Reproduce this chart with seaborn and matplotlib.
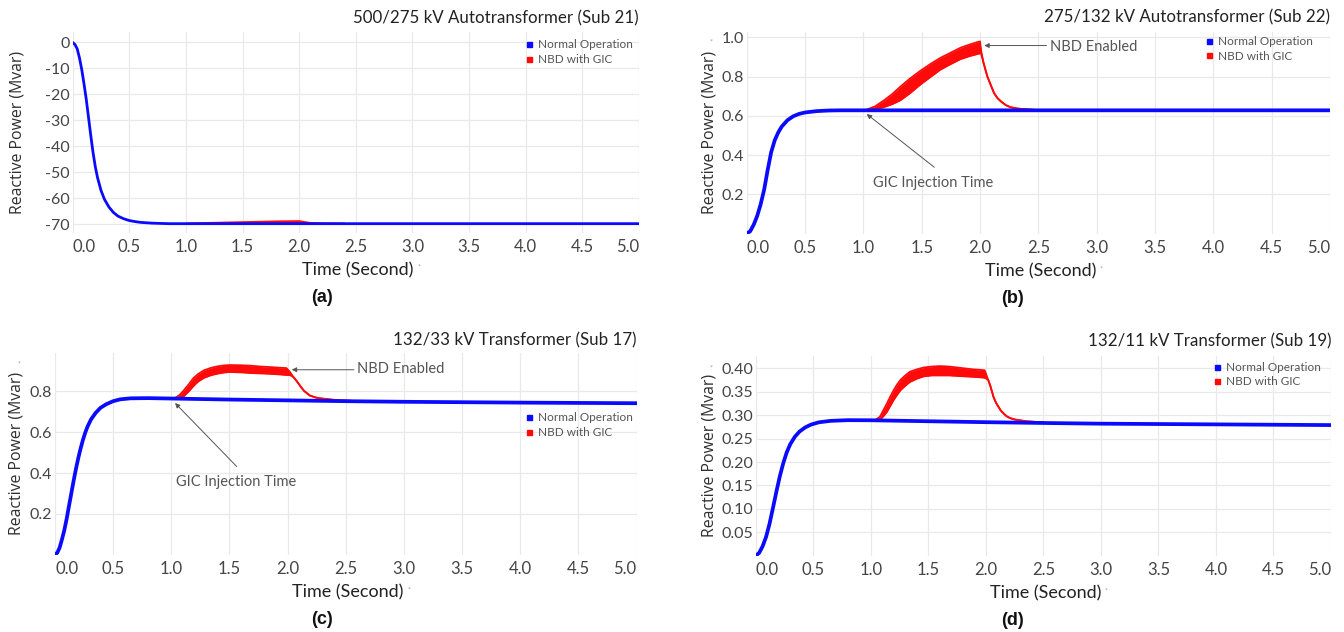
import matplotlib
matplotlib.use("Agg")
import matplotlib.pyplot as plt
from matplotlib.lines import Line2D
import seaborn as sns

# ---------------------------------------------------------------- data
# Time axis shared by all panels
time_ticks = [0.0, 0.5, 1.0, 1.5, 2.0, 2.5, 3.0, 3.5, 4.0, 4.5, 5.0]
time_tick_labels = ["0.0", "0.5", "1.0", "1.5", "2.0", "2.5", "3.0", "3.5", "4.0", "4.5", "5.0"]

series_labels = ["Normal Operation", "NBD with GIC"]

# (a) 500/275 kV Autotransformer (Sub 21)
a_title = "500/275 kV Autotransformer (Sub 21)"
a_normal_t = [0.00, 0.02, 0.04, 0.06, 0.08, 0.10, 0.12, 0.14, 0.16, 0.18, 0.20, 0.22,
              0.25, 0.28, 0.32, 0.36, 0.40, 0.45, 0.50, 0.55, 0.60, 0.70, 0.85, 1.00, 5.00]
a_normal_q = [0.0, -0.8, -2.5, -6.0, -10.5, -16.0, -22.0, -29.0, -36.0, -42.5, -48.0, -52.2,
              -57.0, -60.4, -63.4, -65.5, -66.9, -67.9, -68.6, -69.0, -69.3, -69.6, -69.8, -69.8, -69.8]
a_nbd_t = [1.00, 1.20, 1.40, 1.60, 1.80, 2.00, 2.05, 2.10, 2.20, 2.40]
a_nbd_hi = [-69.8, -69.5, -69.3, -69.1, -68.9, -68.8, -69.2, -69.5, -69.7, -69.8]
a_nbd_lo = [-69.8, -69.8, -69.7, -69.5, -69.3, -69.2, -69.4, -69.6, -69.8, -69.8]
a_yticks = [0, -10, -20, -30, -40, -50, -60, -70]
a_ytick_labels = ["0", "-10", "-20", "-30", "-40", "-50", "-60", "-70"]

# (b) 275/132 kV Autotransformer (Sub 22)
b_title = "275/132 kV Autotransformer (Sub 22)"
b_normal_t = [0.00, 0.03, 0.06, 0.09, 0.12, 0.15, 0.18, 0.21, 0.24, 0.27, 0.30, 0.35,
              0.40, 0.45, 0.50, 0.60, 0.70, 0.80, 1.00, 5.00]
b_normal_q = [0.000, 0.012, 0.045, 0.090, 0.150, 0.225, 0.325, 0.415, 0.475, 0.515, 0.545, 0.578,
              0.598, 0.610, 0.617, 0.624, 0.627, 0.628, 0.628, 0.628]
b_nbd_t = [1.02, 1.10, 1.18, 1.25, 1.32, 1.40, 1.49, 1.58, 1.66, 1.75, 1.83, 1.91, 1.98, 2.00,
           2.01, 2.03, 2.063, 2.09, 2.12, 2.15, 2.18, 2.22, 2.26, 2.32, 2.38, 2.45, 2.52, 2.60]
b_nbd_hi = [0.630, 0.648, 0.680, 0.712, 0.750, 0.790, 0.830, 0.866, 0.895, 0.922, 0.946, 0.963, 0.976, 0.979,
            0.930, 0.870, 0.800, 0.760, 0.716, 0.690, 0.673, 0.655, 0.644, 0.637, 0.634, 0.631, 0.629, 0.628]
b_nbd_lo = [0.628, 0.632, 0.645, 0.660, 0.680, 0.715, 0.760, 0.800, 0.835, 0.864, 0.888, 0.904, 0.915, 0.918,
            0.915, 0.870, 0.800, 0.760, 0.716, 0.690, 0.673, 0.655, 0.644, 0.637, 0.634, 0.631, 0.629, 0.628]
b_yticks = [0.2, 0.4, 0.6, 0.8, 1.0]
b_ytick_labels = ["0.2", "0.4", "0.6", "0.8", "1.0"]

# (c) 132/33 kV Transformer (Sub 17)
c_title = "132/33 kV Transformer (Sub 17)"
c_normal_t = [0.00, 0.02, 0.04, 0.06, 0.08, 0.10, 0.12, 0.14, 0.16, 0.18, 0.20, 0.22, 0.24, 0.26,
              0.28, 0.31, 0.35, 0.39, 0.44, 0.50, 0.56, 0.65, 0.80, 1.00, 1.50, 2.00, 2.50, 3.00,
              4.00, 5.00]
c_normal_q = [0.000, 0.010, 0.035, 0.075, 0.120, 0.175, 0.238, 0.300, 0.362, 0.420, 0.473, 0.520,
              0.562, 0.598, 0.628, 0.663, 0.695, 0.719, 0.737, 0.752, 0.761, 0.766, 0.767, 0.765,
              0.760, 0.756, 0.752, 0.749, 0.745, 0.742]
c_nbd_t = [1.03, 1.07, 1.10, 1.15, 1.19, 1.23, 1.28, 1.34, 1.39, 1.45, 1.50, 1.60, 1.68, 1.76,
           1.85, 1.93, 1.99, 2.02, 2.05, 2.08, 2.11, 2.14, 2.19, 2.24, 2.28, 2.34, 2.39, 2.46,
           2.54, 2.60]
c_nbd_hi = [0.767, 0.782, 0.800, 0.835, 0.865, 0.885, 0.903, 0.915, 0.922, 0.927, 0.929, 0.928,
            0.926, 0.922, 0.919, 0.916, 0.914, 0.895, 0.870, 0.849, 0.825, 0.803, 0.780, 0.770,
            0.766, 0.762, 0.759, 0.756, 0.754, 0.752]
c_nbd_lo = [0.765, 0.768, 0.772, 0.800, 0.826, 0.848, 0.866, 0.879, 0.886, 0.892, 0.895, 0.893,
            0.890, 0.888, 0.886, 0.883, 0.880, 0.880, 0.870, 0.849, 0.825, 0.803, 0.780, 0.770,
            0.766, 0.762, 0.759, 0.756, 0.754, 0.752]
c_yticks = [0.2, 0.4, 0.6, 0.8]
c_ytick_labels = ["0.2", "0.4", "0.6", "0.8"]

# (d) 132/11 kV Transformer (Sub 19)
d_title = "132/11 kV Transformer (Sub 19)"
d_normal_t = [0.00, 0.03, 0.06, 0.09, 0.12, 0.15, 0.18, 0.21, 0.24, 0.27, 0.30, 0.34, 0.38,
              0.43, 0.48, 0.55, 0.65, 0.80, 1.00, 1.50, 2.00, 2.50, 3.00, 4.00, 5.00]
d_normal_q = [0.000, 0.006, 0.020, 0.040, 0.068, 0.102, 0.137, 0.170, 0.198, 0.221, 0.238, 0.254,
              0.265, 0.274, 0.280, 0.285, 0.288, 0.2895, 0.2893, 0.2872, 0.2852, 0.2835, 0.2820,
              0.2805, 0.2790]
d_nbd_t = [1.04, 1.08, 1.11, 1.14, 1.17, 1.20, 1.23, 1.26, 1.30, 1.34, 1.40, 1.46, 1.53, 1.60,
           1.68, 1.75, 1.82, 1.89, 1.95, 1.99, 2.02, 2.04, 2.067, 2.09, 2.11, 2.13, 2.154, 2.18,
           2.21, 2.25, 2.30, 2.36, 2.42, 2.50]
d_nbd_hi = [0.290, 0.297, 0.311, 0.325, 0.340, 0.354, 0.366, 0.376, 0.385, 0.393, 0.398, 0.402,
            0.404, 0.405, 0.404, 0.402, 0.400, 0.398, 0.397, 0.396, 0.376, 0.362, 0.339, 0.326,
            0.318, 0.310, 0.304, 0.298, 0.294, 0.291, 0.289, 0.287, 0.286, 0.2848]
d_nbd_lo = [0.289, 0.290, 0.298, 0.307, 0.320, 0.333, 0.344, 0.354, 0.363, 0.371, 0.378, 0.383,
            0.385, 0.385, 0.385, 0.384, 0.383, 0.382, 0.381, 0.380, 0.376, 0.362, 0.339, 0.326,
            0.318, 0.310, 0.304, 0.298, 0.294, 0.291, 0.289, 0.287, 0.286, 0.2848]
d_yticks = [0.05, 0.10, 0.15, 0.20, 0.25, 0.30, 0.35, 0.40]
d_ytick_labels = ["0.05", "0.10", "0.15", "0.20", "0.25", "0.30", "0.35", "0.40"]

# ---------------------------------------------------------------- style
sns.set_theme(style="whitegrid")
plt.rcParams["font.family"] = ["Lato", "DejaVu Sans"]

BLUE = "#0a0aff"
RED = "#ff0a0a"
GRID = "#e9e9e9"
TEXT_DARK = "#222222"
TEXT_MID = "#444444"
TEXT_SOFT = "#555555"

W, H = 1344, 632
fig = plt.figure(figsize=(W / 100, H / 100), dpi=100)
fig.patch.set_facecolor("white")


def fx(px):
    return px / W


def fy(py):
    return 1 - py / H


def add_axes_px(left, top, right, bottom):
    return fig.add_axes([fx(left), fy(bottom), (right - left) / W, (bottom - top) / H])


panels = [
    dict(box=(72.7, 32.3, 639.0, 232.5), ylim=(-73.2, 3.9), title=a_title, title_y=18,
         normal=(a_normal_t, a_normal_q), nbd=(a_nbd_t, a_nbd_hi, a_nbd_lo), lw=2.0,
         yticks=(a_yticks, a_ytick_labels), legend=(524.0, 39.0), ylab_x=18, caption="(a)",
         cap_x=322, star_y=None),
    dict(box=(746.7, 32.0, 1330.0, 233.6), ylim=(0, 1.027), title=b_title, title_y=17,
         normal=(b_normal_t, b_normal_q), nbd=(b_nbd_t, b_nbd_hi, b_nbd_lo), lw=2.7,
         yticks=(b_yticks, b_ytick_labels), legend=(1204.3, 35.8), ylab_x=709, caption="(b)",
         cap_x=1013, star_y=42),
    dict(box=(55.0, 352.6, 636.6, 554.7), ylim=(0, 0.99), title=c_title, title_y=340,
         normal=(c_normal_t, c_normal_q), nbd=(c_nbd_t, c_nbd_hi, c_nbd_lo), lw=2.7,
         yticks=(c_yticks, c_ytick_labels), legend=(524.0, 412.2), ylab_x=17, caption="(c)",
         cap_x=322, star_y=364),
    dict(box=(755.7, 355.8, 1331.0, 555.7), ylim=(0, 0.427), title=d_title, title_y=341,
         normal=(d_normal_t, d_normal_q), nbd=(d_nbd_t, d_nbd_hi, d_nbd_lo), lw=2.7,
         yticks=(d_yticks, d_ytick_labels), legend=(1212.1, 361.7), ylab_x=709, caption="(d)",
         cap_x=1013, star_y=368),
]

axes = []
for p in panels:
    left, top, right, bottom = p["box"]
    ax = add_axes_px(left, top, right, bottom)
    axes.append(ax)

    # NBD with GIC: ripple band between its upper and lower envelope
    nt, nhi, nlo = p["nbd"]
    ax.fill_between(nt, nlo, nhi, color=RED, lw=0, zorder=2)
    sns.lineplot(x=nt, y=nhi, ax=ax, color=RED, lw=1.3, estimator=None, sort=False, zorder=2)
    sns.lineplot(x=nt, y=nlo, ax=ax, color=RED, lw=1.3, estimator=None, sort=False, zorder=2)

    # Normal operation
    tt, qq = p["normal"]
    sns.lineplot(x=tt, y=qq, ax=ax, color=BLUE, lw=p["lw"], estimator=None, sort=False, zorder=3)

    ax.set_xlim(0, 5.0)
    ax.set_ylim(*p["ylim"])
    ax.set_facecolor("white")
    for s in ax.spines.values():
        s.set_visible(False)
    ax.grid(True, color=GRID, lw=0.9)
    ax.set_axisbelow(True)

    ax.set_xticks(time_ticks)
    ax.set_xticklabels(time_tick_labels)
    yt, ytl = p["yticks"]
    ax.set_yticks(yt)
    ax.set_yticklabels(ytl)
    ax.tick_params(axis="x", length=0, pad=4.5, labelsize=12, labelcolor=TEXT_MID)
    ax.tick_params(axis="y", length=0, pad=2.0, labelsize=11.5, labelcolor=TEXT_MID)
    xl = ax.get_xticklabels()
    xl[0].set_horizontalalignment("left")
    xl[-1].set_horizontalalignment("right")
    ax.set_xlabel("")
    ax.set_ylabel("")

    # title, axis titles and caption
    fig.text(fx(right), fy(p["title_y"]), p["title"], ha="right", va="center",
             fontsize=12.2, color=TEXT_DARK)
    cx = (left + right) / 2
    fig.text(fx(cx + 2), fy(bottom + 38), "Time (Second)", ha="center", va="center",
             fontsize=13, color=TEXT_DARK)
    fig.text(fx(cx + 63), fy(bottom + 35), "*", ha="center", va="center",
             fontsize=5, color="#9a9a9a")
    cy = (top + bottom) / 2
    fig.text(fx(p["ylab_x"]), fy(cy), "Reactive Power (Mvar)", rotation=90, ha="center",
             va="center", fontsize=11.4, color="#2e2e2e", family=["Open Sans", "DejaVu Sans"])
    if p["star_y"] is not None:
        fig.text(fx(p["ylab_x"] + 2), fy(p["star_y"]), "*", ha="center", va="center",
                 fontsize=5, color="#9a9a9a")
    fig.text(fx(p["cap_x"]), fy(bottom + 64.5), p["caption"], ha="center", va="center",
             fontsize=13, fontweight="bold", color="#111111",
             family=["Liberation Sans", "DejaVu Sans"])

    # legend
    handles = [
        Line2D([], [], marker="s", ls="none", color=BLUE, markersize=3.6, label=series_labels[0]),
        Line2D([], [], marker="s", ls="none", color=RED, markersize=3.6, label=series_labels[1]),
    ]
    lx, ly = p["legend"]
    ax.legend(handles=handles, loc="upper left", bbox_to_anchor=(fx(lx), fy(ly)),
              bbox_transform=fig.transFigure, frameon=False, fontsize=8.5, borderpad=0,
              borderaxespad=0, handlelength=0.8, handletextpad=0.35, labelspacing=0.32,
              labelcolor=TEXT_SOFT)

# annotations
arrow_kw = dict(arrowstyle="-|>", color="#555555", lw=0.7, mutation_scale=7,
                shrinkA=0, shrinkB=0)
ax_b, ax_c = axes[1], axes[2]

ax_b.annotate("", xy=(2.036, 0.958), xytext=(2.57, 0.958), arrowprops=arrow_kw)
ax_b.text(2.60, 0.952, "NBD Enabled", ha="left", va="center", fontsize=10.5, color=TEXT_SOFT)
ax_b.annotate("", xy=(1.029, 0.609), xytext=(1.608, 0.338), arrowprops=arrow_kw)
ax_b.text(1.601, 0.256, "GIC Injection Time", ha="center", va="center", fontsize=10.5,
          color=TEXT_SOFT)

ax_c.annotate("", xy=(2.035, 0.906), xytext=(2.57, 0.906), arrowprops=arrow_kw)
ax_c.text(2.594, 0.911, "NBD Enabled", ha="left", va="center", fontsize=10.5, color=TEXT_SOFT)
ax_c.annotate("", xy=(1.032, 0.743), xytext=(1.562, 0.432), arrowprops=arrow_kw)
ax_c.text(1.558, 0.355, "GIC Injection Time", ha="center", va="center", fontsize=10.5,
          color=TEXT_SOFT)

fig.savefig("out.png", dpi=100, facecolor="white")
